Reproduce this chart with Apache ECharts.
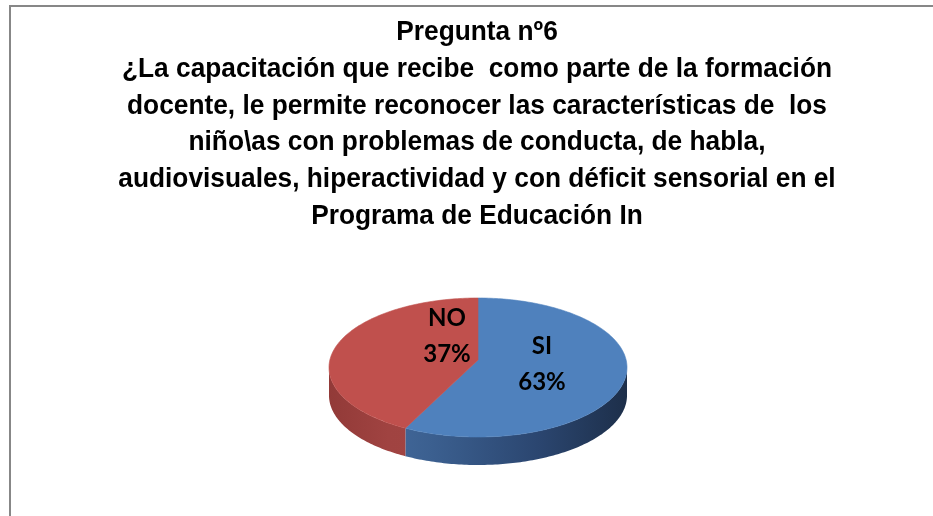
<!DOCTYPE html>
<html>
<head>
<meta charset="utf-8">
<script src="https://cdn.jsdelivr.net/npm/echarts@6/dist/echarts.min.js"></script>
<style>
html,body{margin:0;padding:0;background:#fff;}
#chart{width:933px;height:516px;}
</style>
</head>
<body>
<div id="chart"></div>
<script>
// ---- data ----
const categories = ['SI', 'NO'];
const values = [63, 37];
const percentLabels = ['63%', '37%'];
const titleLines = [
  'Pregunta nº6',
  '¿La capacitación que recibe  como parte de la formación',
  'docente, le permite reconocer las características de  los',
  'niño\\as con problemas de conducta, de habla,',
  'audiovisuales, hiperactividad y con déficit sensorial en el',
  'Programa de Educación In'
];

// ---- layout / style ----
const topColors = ['#4F81BD', '#C0504D'];
const sideStops = [
  [[0, '#4A72A6'], [0.35, '#3B5F8F'], [0.7, '#2B4670'], [1, '#1D2F4A']],
  [[0, '#923A38'], [0.2, '#A04341'], [1, '#A94A47']]
];
const labelPos = [[542, 364], [447, 336]];
const geo = { pcx: 478, pcy: 360, ecx: 478, ecy: 367.5, rx: 149, ry: 69.5, depth: 28 };

// title font: Arial-like bold, horizontally condensed to match the narrow look
const titleFont = { family: '"Liberation Sans", Arial, sans-serif', size: 28 };
const measureCtx = document.createElement('canvas').getContext('2d');
measureCtx.font = 'bold ' + titleFont.size + 'px ' + titleFont.family;
const titleScaleX = 710 / measureCtx.measureText(titleLines[1]).width;

function rimParam(phi) {
  const dx = Math.sin(phi), dy = -Math.cos(phi);
  const ox = geo.pcx - geo.ecx, oy = geo.pcy - geo.ecy;
  const a = dx * dx / (geo.rx * geo.rx) + dy * dy / (geo.ry * geo.ry);
  const b = 2 * (ox * dx / (geo.rx * geo.rx) + oy * dy / (geo.ry * geo.ry));
  const c = ox * ox / (geo.rx * geo.rx) + oy * oy / (geo.ry * geo.ry) - 1;
  const t = (-b + Math.sqrt(b * b - 4 * a * c)) / (2 * a);
  const x = geo.pcx + t * dx, y = geo.pcy + t * dy;
  let p = Math.atan2((y - geo.ecy) / geo.ry, (x - geo.ecx) / geo.rx);
  const ref = phi - Math.PI / 2;
  while (p < ref - Math.PI) p += 2 * Math.PI;
  while (p > ref + Math.PI) p -= 2 * Math.PI;
  return p;
}
function ellPt(t, dy) {
  return [geo.ecx + geo.rx * Math.cos(t), geo.ecy + geo.ry * Math.sin(t) + (dy || 0)];
}
function arcPts(t0, t1, dy) {
  const pts = [];
  const n = Math.max(2, Math.ceil(Math.abs(t1 - t0) / (Math.PI / 180)));
  for (let k = 0; k <= n; k++) pts.push(ellPt(t0 + (t1 - t0) * k / n, dy));
  return pts;
}

const total = values.reduce((s, v) => s + v, 0);

function renderItem(params, api) {
  const i = params.dataIndex;
  let before = 0;
  for (let k = 0; k < i; k++) before += values[k];
  const phi0 = before / total * 2 * Math.PI;
  const phi1 = (before + api.value(0)) / total * 2 * Math.PI;
  const t0 = rimParam(phi0), t1 = rimParam(phi1);
  const children = [];
  const a = Math.max(t0, 0), b = Math.min(t1, Math.PI);
  if (a < b) {
    const pts = arcPts(a, b, 0).concat(arcPts(b, a, geo.depth));
    children.push({
      type: 'polygon',
      shape: { points: pts },
      style: {
        fill: new echarts.graphic.LinearGradient(geo.ecx - geo.rx, 0, geo.ecx + geo.rx, 0,
          sideStops[i].map(s => ({ offset: s[0], color: s[1] })), true),
        stroke: null
      }
    });
  }
  const topPts = [[geo.pcx, geo.pcy]].concat(arcPts(t0, t1, 0));
  children.push({
    type: 'polygon',
    shape: { points: topPts },
    style: { fill: topColors[i], stroke: topColors[i], lineWidth: 0.6 }
  });
  children.push({
    type: 'text',
    x: labelPos[i][0],
    y: labelPos[i][1],
    style: {
      text: categories[i] + '\n' + percentLabels[i],
      align: 'center',
      verticalAlign: 'middle',
      fontFamily: 'Lato',
      fontWeight: 'bold',
      fontSize: 24,
      lineHeight: 36,
      fill: '#000'
    }
  });
  return { type: 'group', children: children };
}

const chart = echarts.init(document.getElementById('chart'), null, { renderer: 'canvas' });
chart.setOption({
  backgroundColor: '#ffffff',
  animation: false,
  graphic: [{
    type: 'polyline',
    shape: { points: [[10, 530], [10, 6], [945, 6]] },
    style: { stroke: '#878787', lineWidth: 2, fill: null },
    silent: true
  }, {
    type: 'text',
    x: 477,
    y: 14,
    scaleX: titleScaleX,
    silent: true,
    style: {
      text: titleLines.join('\n'),
      align: 'center',
      verticalAlign: 'top',
      fontFamily: titleFont.family,
      fontWeight: 'bold',
      fontSize: titleFont.size,
      lineHeight: 36.75,
      fill: '#000'
    }
  }],
  series: [{
    type: 'custom',
    coordinateSystem: 'none',
    renderItem: renderItem,
    data: values.map((v, i) => ({ name: categories[i], value: v }))
  }]
});
</script>
</body>
</html>
